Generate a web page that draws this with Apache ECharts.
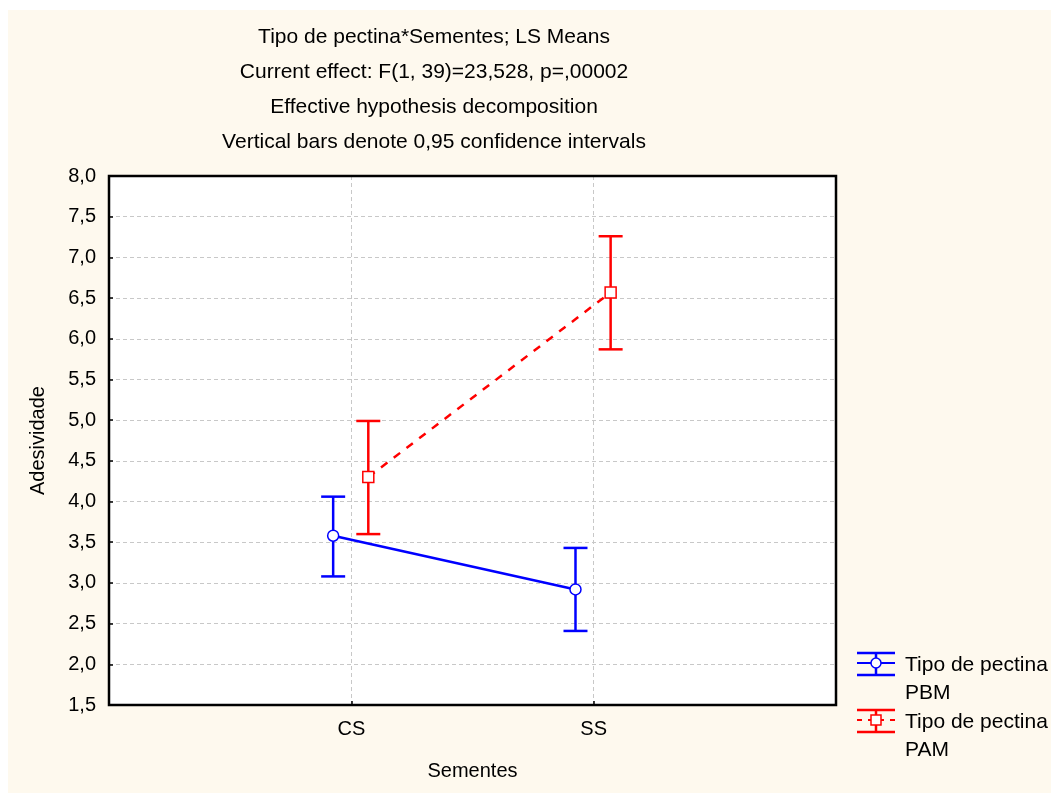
<!DOCTYPE html>
<html>
<head>
<meta charset="utf-8">
<script src="https://cdn.jsdelivr.net/npm/echarts@6/dist/echarts.min.js"></script>
<style>
html,body{margin:0;padding:0;background:#fff;}
#bg{position:absolute;left:8px;top:10px;right:0;bottom:0;background:#fef9ee;}
#chart{position:absolute;left:0;top:0;width:1051px;height:793px;}
</style>
</head>
<body>
<div id="bg"></div>
<div id="chart"></div>
<script>
var categories = ['CS', 'SS'];
var yTicks = [1.5, 2.0, 2.5, 3.0, 3.5, 4.0, 4.5, 5.0, 5.5, 6.0, 6.5, 7.0, 7.5, 8.0];
var pbmMean = [3.58, 2.92];
var pbmLow = [3.08, 2.41];
var pbmHigh = [4.06, 3.43];
var pamMean = [4.30, 6.57];
var pamLow = [3.60, 5.87];
var pamHigh = [4.99, 7.26];
var titleLines = [
  'Tipo de pectina*Sementes; LS Means',
  'Current effect: F(1, 39)=23,528, p=,00002',
  'Effective hypothesis decomposition',
  'Vertical bars denote 0,95 confidence intervals'
];
var legendNames = ['Tipo de pectina\nPBM', 'Tipo de pectina\nPAM'];

var FONT = 'Liberation Sans, Arial, sans-serif';
var BLUE = '#0000ff', RED = '#ff0000';
var offPBM = -0.075, offPAM = 0.07;

function pts(mean, off) { return mean.map(function (v, i) { return [i + 1 + off, v]; }); }
function bars(lo, hi, off) { return lo.map(function (v, i) { return [i + 1 + off, v, hi[i]]; }); }

function errRender(color) {
  return function (params, api) {
    var x = api.value(0);
    var p1 = api.coord([x, api.value(1)]);
    var p2 = api.coord([x, api.value(2)]);
    var w = 12;
    var st = { stroke: color, lineWidth: 2.5 };
    return {
      type: 'group',
      children: [
        { type: 'line', shape: { x1: p1[0], y1: p1[1], x2: p2[0], y2: p2[1] }, style: st },
        { type: 'line', shape: { x1: p1[0] - w, y1: p1[1], x2: p1[0] + w, y2: p1[1] }, style: st },
        { type: 'line', shape: { x1: p2[0] - w, y1: p2[1], x2: p2[0] + w, y2: p2[1] }, style: st }
      ]
    };
  };
}

var chart = echarts.init(document.getElementById('chart'), null, { renderer: 'canvas' });

function legendIcon(cx, cy, color, dashed, symbol) {
  var st = { stroke: color, lineWidth: 2.5 };
  var els = [
    { type: 'line', shape: { x1: cx - 19, y1: cy - 10, x2: cx + 19, y2: cy - 10 }, style: st },
    { type: 'line', shape: { x1: cx - 19, y1: cy + 12, x2: cx + 19, y2: cy + 12 }, style: st },
    { type: 'line', shape: { x1: cx, y1: cy - 10, x2: cx, y2: cy + 12 }, style: st },
    { type: 'line', shape: { x1: cx - 19, y1: cy, x2: cx + 19, y2: cy },
      style: { stroke: color, lineWidth: 2, lineDash: dashed ? [5, 6] : null } }
  ];
  if (symbol === 'circle') {
    els.push({ type: 'circle', shape: { cx: cx, cy: cy, r: 5 }, style: { fill: '#fff', stroke: color, lineWidth: 1.5 } });
  } else {
    els.push({ type: 'rect', shape: { x: cx - 5, y: cy - 5, width: 10, height: 10 }, style: { fill: '#fff', stroke: color, lineWidth: 1.5 } });
  }
  return els;
}

var graphics = [
  {
    type: 'text', x: 434, y: 20,
    style: { text: titleLines.join('\n'), font: '21px ' + FONT, fill: '#000', align: 'center', verticalAlign: 'top', lineHeight: 35 }
  },
  { type: 'text', x: 905, y: 651, style: { text: legendNames[0], font: '21px ' + FONT, fill: '#000', lineHeight: 28 } },
  { type: 'text', x: 905, y: 708, style: { text: legendNames[1], font: '21px ' + FONT, fill: '#000', lineHeight: 28 } },
  { type: 'rect', z: 100, shape: { x: 109, y: 176, width: 727, height: 529 }, style: { fill: null, stroke: '#000', lineWidth: 2.5 } }
].concat(legendIcon(876, 663, BLUE, false, 'circle')).concat(legendIcon(876, 720, RED, true, 'rect'));

chart.setOption({
  animation: false,
  backgroundColor: 'transparent',
  grid: { left: 109, top: 176, right: 215, bottom: 88, show: true, backgroundColor: '#fff', borderWidth: 0 },
  xAxis: {
    type: 'value', min: 0, max: 3, interval: 1,
    name: 'Sementes', nameLocation: 'middle', nameGap: 56,
    nameTextStyle: { fontSize: 20, fontFamily: FONT, color: '#000' },
    axisLine: { show: false },
    axisTick: { show: true, inside: true, length: 4, lineStyle: { color: '#000', width: 1.5 } },
    axisLabel: {
      fontSize: 20, fontFamily: FONT, color: '#000', margin: 14,
      formatter: function (v) { return (v >= 1 && v <= categories.length && v === Math.round(v)) ? categories[v - 1] : ''; }
    },
    splitLine: { show: true, showMinLine: false, showMaxLine: false, lineStyle: { color: '#c8c8c8', type: [4, 3], width: 1 } }
  },
  yAxis: {
    type: 'value', min: 1.5, max: 8, interval: 0.5,
    name: 'Adesividade', nameLocation: 'middle', nameGap: 61, nameRotate: 90,
    nameTextStyle: { fontSize: 20, fontFamily: FONT, color: '#000' },
    axisLine: { show: false },
    axisTick: { show: true, inside: true, length: 4, lineStyle: { color: '#000', width: 1.5 } },
    axisLabel: {
      fontSize: 20, fontFamily: FONT, color: '#000', margin: 13,
      formatter: function (v) { return v.toFixed(1).replace('.', ','); }
    },
    splitLine: { show: true, showMinLine: false, showMaxLine: false, lineStyle: { color: '#c8c8c8', type: [4, 3], width: 1 } }
  },
  series: [
    { type: 'custom', name: 'pbmErr', renderItem: errRender(BLUE), data: bars(pbmLow, pbmHigh, offPBM), z: 2, silent: true },
    { type: 'custom', name: 'pamErr', renderItem: errRender(RED), data: bars(pamLow, pamHigh, offPAM), z: 2, silent: true },
    {
      type: 'line', name: 'PBM', data: pts(pbmMean, offPBM), z: 3,
      symbol: 'circle', symbolSize: 11,
      itemStyle: { color: '#fff', borderColor: BLUE, borderWidth: 1.5 },
      lineStyle: { color: BLUE, width: 2.5 }
    },
    {
      type: 'line', name: 'PAM', data: pts(pamMean, offPAM), z: 3,
      symbol: 'rect', symbolSize: 11,
      itemStyle: { color: '#fff', borderColor: RED, borderWidth: 1.5 },
      lineStyle: { color: RED, width: 2.5, type: [8, 8] }
    }
  ],
  graphic: graphics
});
</script>
</body>
</html>
